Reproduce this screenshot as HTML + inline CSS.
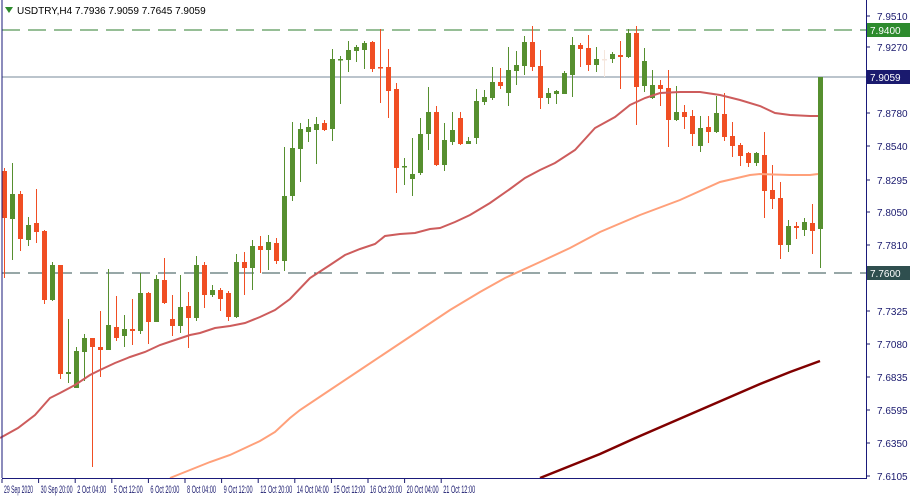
<!DOCTYPE html>
<html><head><meta charset="utf-8"><style>
html,body{margin:0;padding:0;background:#fff;width:915px;height:500px;overflow:hidden}
svg{display:block;font-family:"Liberation Sans",sans-serif}
</style></head><body>
<svg id="c" width="915" height="500" xmlns="http://www.w3.org/2000/svg">
<rect width="915" height="500" fill="#fff"/>
<line x1="2" y1="30" x2="866" y2="30" stroke="#2e7d2e" stroke-width="1" stroke-dasharray="18,8"/>
<line x1="2" y1="273" x2="866" y2="273" stroke="#2f4f4f" stroke-width="1" stroke-dasharray="18,8"/>
<line x1="2" y1="77" x2="866" y2="77" stroke="#778899" stroke-width="1"/>
<g id="cd"></g>
<polyline fill="none" stroke="#cd5c5c" stroke-width="2" points="0,438 18,428 35,415 50,398 60,393 75,385 90,375 100,370 115,363 130,357 145,352 160,345 175,340 190,335 200,333 215,328 230,326 245,323 260,317 275,310 290,299 310,278 330,265 345,255 360,249 375,244 385,236 400,234 415,233 430,229 440,228 455,222 470,215 490,203 510,189 525,178 540,170 555,163 575,150 595,128 615,117 630,105 645,98 660,93 680,92 700,92 720,95 740,100 760,106 775,113 790,115 810,116 818,116"/>
<polyline fill="none" stroke="#ffa07a" stroke-width="2" points="170,478 190,470 210,462 230,455 245,448 260,441 275,432 290,418 300,410 330,390 360,370 390,350 420,330 450,310 480,292 505,278 540,262 570,248 600,232 640,215 680,200 720,182 750,175 760,174 790,175 810,175 818,174"/>
<polyline fill="none" stroke="#800000" stroke-width="2.5" points="540,478 570,466 600,454 640,436 700,410 760,384 790,372 820,361"/>
<line x1="2" y1="0" x2="2" y2="478" stroke="#1a1a7a"/>
<line x1="866.5" y1="0" x2="866.5" y2="479" stroke="#1a1a7a"/>
<line x1="2" y1="478.5" x2="866" y2="478.5" stroke="#1a1a7a"/>
<g id="ax" font-size="10" fill="#1a1a6e"></g>
<rect x="867" y="23" width="43" height="14" fill="#2e8b2e"/>
<text x="870" y="34" font-size="10" fill="#fff">7.9400</text>
<rect x="867" y="70" width="43" height="14" fill="#1a1a6e"/>
<text x="870" y="81" font-size="10" fill="#fff">7.9059</text>
<rect x="867" y="266" width="43" height="14" fill="#2f4f4f"/>
<text x="870" y="277" font-size="10" fill="#fff">7.7600</text>
<polygon points="5,7 13,7 9,13" fill="#2e8b2e"/>
<text x="17" y="14" font-size="10" fill="#000">USDTRY,H4  7.7936 7.9059 7.7645 7.9059</text>
</svg>
<script>
var d=[[171,218,168,278],[219,194,163,260],[194,239,191,251],[240,225,217,246],[223,232,189,243],[231,300,230,304],[300,265,262,301],[265,374,265,379],[374,372,319,383],[388,351,347,388],[352,338,334,381],[338,347,338,467],[347,350,311,377],[350,325,269,350],[327,338,296,341],[336,329,315,347],[329,331,299,345],[331,293,273,334],[293,322,292,344],[322,279,275,322],[280,303,258,304],[319,326,295,336],[326,307,275,333],[306,318,292,348],[318,265,256,321],[265,295,262,308],[295,290,285,297],[290,299,288,311],[293,317,291,321],[317,262,254,318],[262,268,252,295],[268,246,240,290],[246,250,236,273],[250,242,235,270],[243,261,238,264],[261,196,147,271],[196,148,122,201],[149,129,123,182],[132,127,119,142],[130,124,117,164],[123,130,120,131],[129,59,49,141],[60,59,56,104],[60,50,41,72],[51,47,45,62],[50,43,41,69],[42,69,41,72],[67,67.5,29,103],[67,91,49,118],[89,168,83,193],[166.5,166,158,185],[179,174,138,196],[173,134,118,175],[134,112,87,150],[112,165,106,166],[165,140,123,171],[142,130,112,145],[118,144,112,145],[144,141,137,144],[138,101,89,144],[102,97,90,105],[98,82,67,100],[82,86,68,89],[93,70,47,106],[71,65,51,85],[66,42,36,75],[42,67,26,71],[66,98,50,109],[98,93,88,104],[94,91,90,104],[94,73,71,94],[75,45,37,97],[45,49,43,67],[48,65,35,71],[65,59,47,72],[59.5,59,50,77],[59,54,52,63],[55,57,41,89],[57,33,29,58],[33,87,26,125],[86,61,48,92],[98,85,70,99],[85,89,80,106],[88,120,70,147],[120,112,86,121],[112,117,105,129],[116,134,110,146],[146,128,116,152],[127,132,116,143],[132,113,96,133],[114,137,93,141],[136,146,122,157],[145,156,143,166],[153,163,152,167],[163,153,152,166],[155,191,132,218],[190,199,165,209],[198,245,182,259],[245,226,220,252],[226,228,222,239],[230,222,218,236],[223,231,204,254],[229,77,77,268]];
var g=document.getElementById('cd'),s='';
d.forEach(function(c,i){var x=4+8*i,up=c[1]<c[0],col=up?'#568f2f':'#f04e23';if(i==75)col='#f5e6dc';
var t=Math.min(c[0],c[1]),h=Math.max(1.5,Math.abs(c[1]-c[0]));
s+='<line x1="'+(x+0.5)+'" y1="'+c[2]+'" x2="'+(x+0.5)+'" y2="'+c[3]+'" stroke="'+col+'" stroke-width="1"/>';
s+='<rect x="'+(x-2)+'" y="'+t+'" width="5" height="'+h+'" fill="'+col+'"/>';});
g.innerHTML=s;
var ax='',yl=[[16,'7.9510'],[47,'7.9270'],[113,'7.8780'],[146,'7.8540'],[180,'7.8295'],[212,'7.8050'],[245,'7.7810'],[311,'7.7325'],[344,'7.7080'],[377,'7.6835'],[410,'7.6595'],[443,'7.6350'],[476,'7.6105']];
yl.forEach(function(a){ax+='<line x1="866" y1="'+a[0]+'" x2="870" y2="'+a[0]+'" stroke="#1a1a6e"/><text x="877" y="'+(a[0]+4)+'">'+a[1]+'</text>';});
var xl=['29 Sep 2020','30 Sep 20:00','2 Oct 04:00','5 Oct 12:00','6 Oct 20:00','8 Oct 04:00','9 Oct 12:00','12 Oct 20:00','14 Oct 04:00','15 Oct 12:00','16 Oct 20:00','20 Oct 04:00','21 Oct 12:00'];
xl.forEach(function(t,i){var x=2+36.6*i;var w=Math.round(t.length*2.65);ax+='<line x1="'+x+'" y1="479" x2="'+x+'" y2="483" stroke="#1a1a6e"/><text x="'+(x+2)+'" y="493" font-size="11" textLength="'+w+'" lengthAdjust="spacingAndGlyphs">'+t+'</text>';});
document.getElementById('ax').innerHTML=ax;
</script>
</body></html>
